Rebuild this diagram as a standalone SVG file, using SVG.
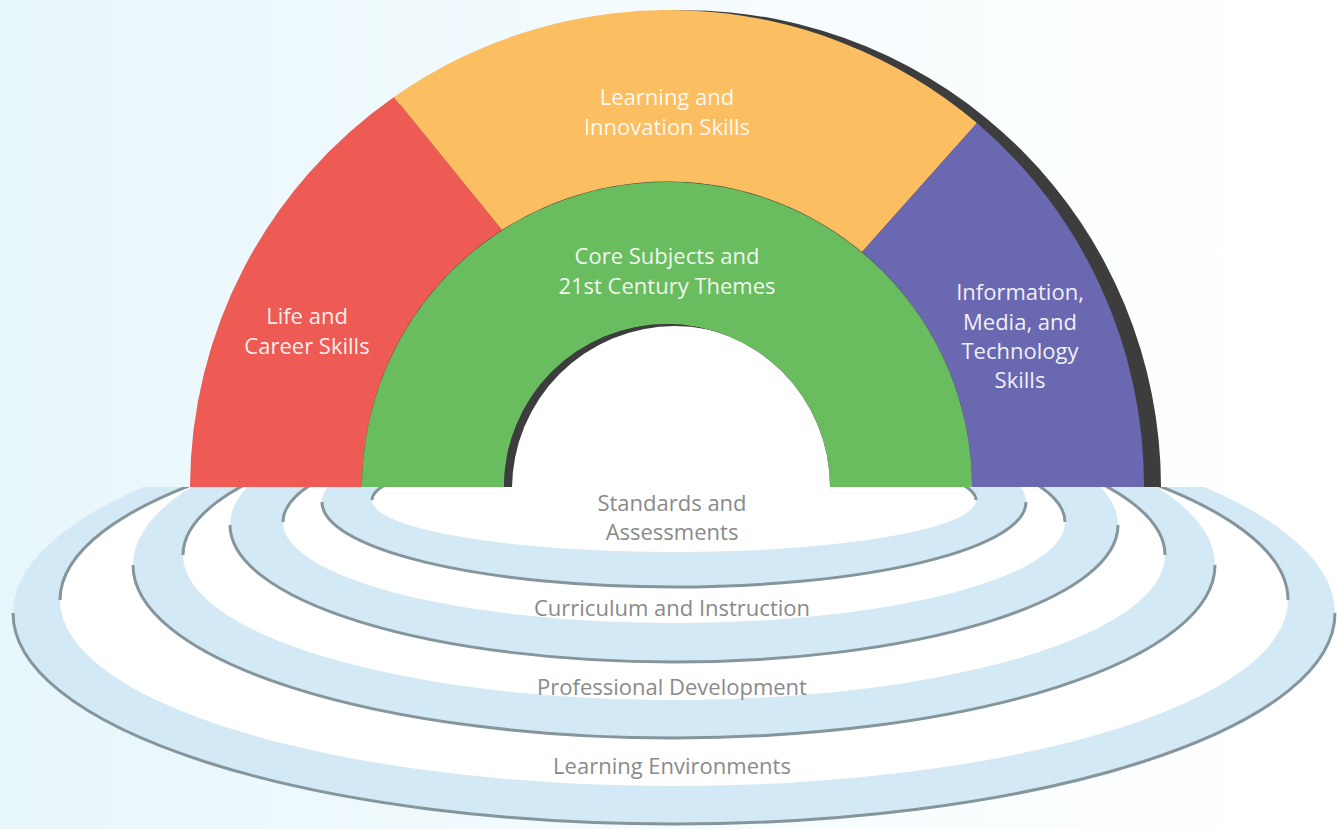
<svg xmlns="http://www.w3.org/2000/svg" width="1338" height="829" viewBox="0 0 1338 829">
  <defs>
    <linearGradient id="bg" x1="0" y1="0" x2="1" y2="0">
      <stop offset="0" stop-color="#e7f6fb"/>
      <stop offset="0.55" stop-color="#f6fcfe"/>
      <stop offset="1" stop-color="#ffffff"/>
    </linearGradient>
    <clipPath id="below">
      <rect x="0" y="487" width="1338" height="342"/>
    </clipPath>
    <clipPath id="hole">
      <path d="M 504 487 A 163 163 0 0 1 830 487 Z"/>
    </clipPath>
    <style>
      .band { fill: #d3e9f5; }
      .inner { fill: #ffffff; }
      .wall { fill: none; stroke: #85959c; stroke-width: 3; }
      .seg-label { font-family: "Open Sans", "Liberation Sans", sans-serif; font-size: 22px; fill: #ffffff; fill-opacity: 0.92; text-anchor: middle; }
      .pool-label { font-family: "Open Sans", "Liberation Sans", sans-serif; font-size: 22px; fill: #8a8a8a; text-anchor: middle; }
    </style>
  </defs>

  <rect x="0" y="0" width="1338" height="829" fill="url(#bg)"/>

  <!-- pools (support systems) -->
  <g clip-path="url(#below)">
    <g id="node-environments">
      <ellipse class="band" cx="674" cy="613" rx="661" ry="211"/>
      <ellipse class="inner" cx="674" cy="600" rx="614" ry="186"/>
      <path class="wall" d="M 13 613 A 661 211 0 0 0 1335 613"/>
      <path class="wall" d="M 60 600 A 614 186 0 0 1 1288 600"/>
      <text class="pool-label" x="672" y="774">Learning Environments</text>
    </g>
    <g id="node-professional">
      <ellipse class="band" cx="674" cy="565" rx="541" ry="173"/>
      <ellipse class="inner" cx="674" cy="555" rx="491" ry="145"/>
      <path class="wall" d="M 133 565 A 541 173 0 0 0 1215 565"/>
      <path class="wall" d="M 183 555 A 491 145 0 0 1 1165 555"/>
      <text class="pool-label" x="672" y="695">Professional Development</text>
    </g>
    <g id="node-curriculum">
      <ellipse class="band" cx="674" cy="525" rx="444" ry="137"/>
      <ellipse class="inner" cx="674" cy="522" rx="391" ry="101"/>
      <path class="wall" d="M 230 525 A 444 137 0 0 0 1118 525"/>
      <path class="wall" d="M 283 522 A 391 101 0 0 1 1065 522"/>
      <text class="pool-label" x="672" y="616">Curriculum and Instruction</text>
    </g>
    <g id="node-standards">
      <ellipse class="band" cx="674" cy="502" rx="352" ry="85"/>
      <ellipse class="inner" cx="674" cy="500" rx="302" ry="52"/>
      <path class="wall" d="M 322 502 A 352 85 0 0 0 1026 502"/>
      <path class="wall" d="M 372 500 A 302 52 0 0 1 976 500"/>
      <text class="pool-label" x="672" y="511">Standards and</text>
      <text class="pool-label" x="672" y="540">Assessments</text>
    </g>
  </g>

  <!-- rainbow (student outcomes) -->
  <g id="rainbow-shadow">
    <path d="M 207 487 A 477 477 0 0 1 1161 487 Z" fill="#3d3d3d"/>
  </g>
  <g id="node-life">
    <path d="M 190 487 A 477 477 0 0 1 394 97 L 502 230 A 305 305 0 0 0 362 487 Z" fill="#ee5a54"/>
    <text class="seg-label" x="307" y="324">Life and</text>
    <text class="seg-label" x="307" y="354">Career Skills</text>
  </g>
  <g id="node-learning">
    <path d="M 394 97 A 477 477 0 0 1 977 123 L 862 252 A 305 305 0 0 0 502 230 Z" fill="#fbbe61"/>
    <text class="seg-label" x="667" y="105">Learning and</text>
    <text class="seg-label" x="667" y="135">Innovation Skills</text>
  </g>
  <g id="node-info">
    <path d="M 977 123 A 477 477 0 0 1 1144 487 L 972 487 A 305 305 0 0 0 862 252 Z" fill="#6a68b1"/>
    <text class="seg-label" x="1020" y="300">Information,</text>
    <text class="seg-label" x="1020" y="330">Media, and</text>
    <text class="seg-label" x="1020" y="359">Technology</text>
    <text class="seg-label" x="1020" y="388">Skills</text>
  </g>
  <g id="node-core">
    <path d="M 362 487 A 305 305 0 0 1 972 487 L 830 487 A 163 163 0 0 0 504 487 Z" fill="#6abd5e"/>
    <g clip-path="url(#hole)">
      <rect x="500" y="320" width="340" height="170" fill="#3d3d3d"/>
      <circle cx="675" cy="489" r="163" fill="#ffffff"/>
    </g>
    <text class="seg-label" x="667" y="264">Core Subjects and</text>
    <text class="seg-label" x="667" y="294">21st Century Themes</text>
  </g>
</svg>
